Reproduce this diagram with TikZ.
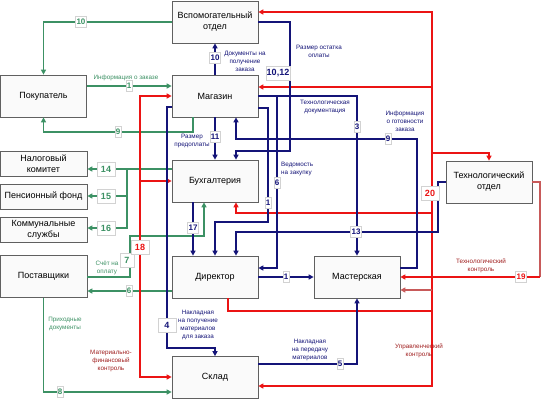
\documentclass[tikz,border=0pt]{standalone}
\usepackage{fontspec}
\setmainfont{Liberation Sans}
\usetikzlibrary{arrows.meta}
\definecolor{gr}{RGB}{60,145,100}
\definecolor{nv}{RGB}{20,20,120}
\definecolor{rd}{RGB}{235,20,20}
\definecolor{drd}{RGB}{160,30,30}
\definecolor{brd}{RGB}{200,90,90}
\begin{document}
\begin{tikzpicture}[x=1pt,y=-1pt,
  box/.style={draw=gray!75!black, fill=gray!4, line width=0.7pt, minimum width=86pt, minimum height=42pt, inner sep=1pt, align=center, font=\fontsize{9}{11}\selectfont},
  sbox/.style={box, minimum width=87pt, minimum height=25pt},
  ln/.style={line width=1.3pt},
  arr/.style={-{Triangle[length=5pt,width=5pt]}},
  barr/.style={{Triangle[length=5pt,width=5pt]}-{Triangle[length=5pt,width=5pt]}},
  numS/.style={fill=white, draw=gray!35, line width=0.4pt, inner sep=1pt, minimum height=11pt, font=\bfseries\fontsize{8}{8}\selectfont},
  numL/.style={numS, minimum width=18pt, minimum height=14pt, font=\bfseries\fontsize{9}{9}\selectfont},
  lbl/.style={font=\fontsize{6.3}{8}\selectfont, align=center, inner sep=0pt}
]
\fill[white] (0,0) rectangle (549,402);
\useasboundingbox (0,0) rectangle (549,402);

% boxes
\node[box] (vsp) at (215,22) {Вспомогательный\\отдел};
\node[box] (mag) at (215,96) {Магазин};
\node[box] (pok) at (43.5,96) {Покупатель};
\node[sbox] (nal) at (43.5,163.5) {Налоговый\\комитет};
\node[sbox] (pen) at (43.5,196.5) {Пенсионный фонд};
\node[sbox] (kom) at (43.5,229.5) {Коммунальные\\службы};
\node[box, minimum width=87pt] (post) at (43.5,276.5) {Поставщики};
\node[box] (buh) at (215,181) {Бухгалтерия};
\node[box] (dir) at (215,277) {Директор};
\node[box] (mas) at (357,277) {Мастерская};
\node[box] (skl) at (215,377.5) {Склад};
\node[box] (teh) at (489,182) {Технологический\\отдел};

% green
\draw[ln,gr,arr] (vsp.west|-0,22) -| (pok.north);
\draw[ln,gr,arr] (pok.east|-0,86) -- (mag.west|-0,86);
\draw[ln,gr,arr] (mag.south-|193,0) -- (193,132) -| (pok.south);
\draw[ln,gr,arr] (buh.west|-0,169) -- (nal.east|-0,169);
\draw[ln,gr,arr] (127,169) |- (pen.east|-0,196);
\draw[ln,gr,arr] (127,190) |- (kom.east|-0,228);
\draw[ln,gr,arr] (post.east|-0,277) -| (130,236) -| (buh.south-|204,0);
\draw[ln,gr,arr] (dir.west|-0,291) -- (post.east|-0,291);
\draw[ln,gr,arr] (post.south) |- (skl.west|-0,392);

% red
\draw[ln,rd,barr] (mag.west|-0,96) -- (140,96) -- (140,377) -- (skl.west|-0,377);
\draw[ln,rd,arr] (140,181) -- (buh.west|-0,181);
\draw[ln,rd] (dir.south-|228,0) |- (432,311);
\draw[ln,rd,barr] (skl.east|-0,386) -- (432,386) -- (432,12) -- (vsp.east|-0,12);
\draw[ln,rd,arr] (432,87) -- (mag.east|-0,87);
\draw[ln,rd,arr] (432,153) -| (teh.north);
\draw[ln,rd,arr] (432,213) -| (buh.south-|236,0);
\draw[ln,brd,arr] (432,290) -- (mas.east|-0,290);
\draw[ln,brd] (teh.east) -- (540,182) -- (540,277);
\draw[ln,rd,arr] (540,277) -- (mas.east|-0,277);

% navy
\draw[ln,nv,arr] (mag.north) -- (vsp.south);
\draw[ln,nv,arr] (vsp.east|-0,22) -| (290,151) -| (buh.north-|236,0);
\draw[ln,nv,arr] (mag.south) -- (buh.north);
\draw[ln,nv,arr] (mag.east) -| (mas.north);
\draw[ln,nv,arr] (277,96) |- (dir.east|-0,268);
\draw[ln,nv,arr] (mag.east|-0,108) -| (268,222) -| (dir.north);
\draw[ln,nv,arr] (mas.east|-0,268) -| (417,139) -| (mag.south-|236,0);
\draw[ln,nv,arr] (teh.west) -| (438,232) -| (dir.north-|236,0);
\draw[ln,nv,arr] (buh.south-|193,0) -- (dir.north-|193,0);
\draw[ln,nv,arr] (dir.east) -- (mas.west);
\draw[ln,nv,arr] (mag.west|-0,107) -| (167,348) -| (skl.north);
\draw[ln,nv,arr] (skl.east|-0,364) -| (mas.south);

% number labels
\node[numS,text=gr] (n10g) at (81,22) {10};
\node[numS,text=gr] (n1g) at (129,86) {1};
\node[numS,text=gr] (n9g) at (118,132) {9};
\node[numL,text=gr] (n14) at (106,169) {14};
\node[numL,text=gr] (n15) at (106,196) {15};
\node[numL,text=gr] (n16) at (106,228) {16};
\node[numL,text=gr,minimum width=14pt] (n7) at (127,260) {7};
\node[numS,text=gr] (n6g) at (129,291) {6};
\node[numS,text=gr] (n8g) at (60,392) {8};
\node[numL,text=rd] (n18) at (140,247) {18};
\node[numL,text=rd] (n20) at (430,193) {20};
\node[numS,text=rd] (n19) at (521,277) {19};
\node[numS,text=nv] (n10b) at (215,58) {10};
\node[numL,text=nv] (n1012) at (278,73) {10,12};
\node[numS,text=nv] (n11) at (215,137) {11};
\node[numS,text=nv] (n3) at (357,127) {3};
\node[numS,text=nv] (n6b) at (277,183) {6};
\node[numS,text=nv] (n1b) at (268,203) {1};
\node[numS,text=nv] (n9b) at (388,139) {9};
\node[numS,text=nv] (n13) at (356,232) {13};
\node[numS,text=nv] (n17) at (193,228) {17};
\node[numS,text=nv] (n1c) at (286,277) {1};
\node[numL,text=nv] (n4) at (167,325) {4};
\node[numS,text=nv] (n5) at (340,364) {5};

% text labels
\node[lbl,text=gr] (t1) at (126,78) {Информация о заказе};
\node[lbl,text=gr] (t2) at (107,268) {Счёт на\\оплату};
\node[lbl,text=gr] (t3) at (65,324) {Приходные\\документы};
\node[lbl,text=drd] (t4) at (111,361) {Материально-\\финансовый\\контроль};
\node[lbl,text=drd] (t5) at (481,266) {Технологический\\контроль};
\node[lbl,text=drd] (t6) at (419,351) {Управленческий\\контроль};
\node[lbl,text=nv] (t7) at (245,61) {Документы на\\получение\\заказа};
\node[lbl,text=nv] (t8) at (319,51) {Размер остатка\\оплаты};
\node[lbl,text=nv] (t9) at (192,141) {Размер\\предоплаты};
\node[lbl,text=nv] (t10) at (325,107) {Технологическая\\документация};
\node[lbl,text=nv,align=left,anchor=west] (t11) at (281,169) {Ведомость\\на закупку};
\node[lbl,text=nv] (t12) at (405,121) {Информация\\о готовности\\заказа};
\node[lbl,text=nv] (t13) at (198,325) {Накладная\\на получение\\материалов\\для заказа};
\node[lbl,text=nv] (t14) at (310,350) {Накладная\\на передачу\\материалов};
\end{tikzpicture}
\end{document}
